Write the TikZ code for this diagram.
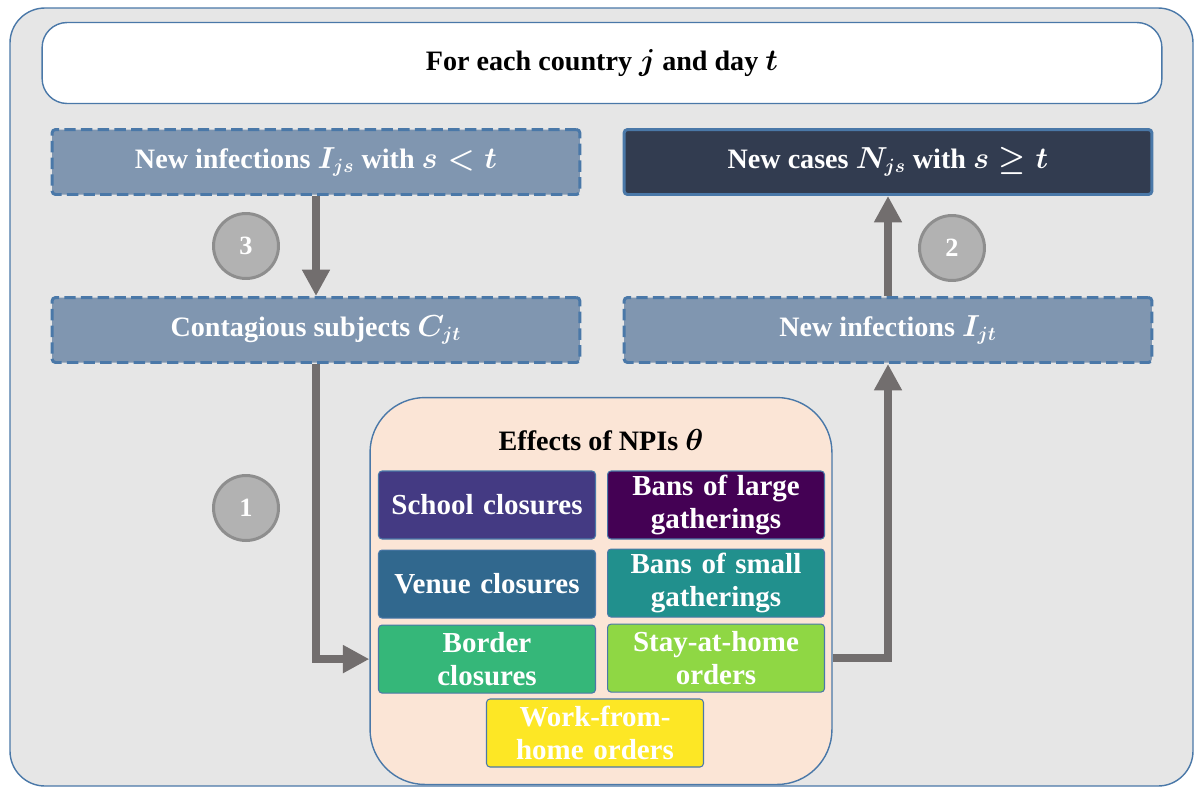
\documentclass[tikz,border=0pt]{standalone}
\usepackage{amsmath}
\usepackage{amssymb}
\usepackage{fontspec}
\setmainfont{Liberation Serif}
\usetikzlibrary{shapes,arrows.meta,positioning}

\definecolor{frameblue}{HTML}{4A78A8}
\definecolor{panelgray}{HTML}{E6E6E6}
\definecolor{slate}{HTML}{8096B0}
\definecolor{navy}{HTML}{323C50}
\definecolor{peach}{HTML}{FBE5D6}
\definecolor{arrowgray}{HTML}{726E6E}
\definecolor{circfill}{HTML}{B2B2B2}
\definecolor{circdraw}{HTML}{8E8E8E}
\definecolor{vira}{HTML}{443A83}
\definecolor{virb}{HTML}{440154}
\definecolor{virc}{HTML}{31688E}
\definecolor{vird}{HTML}{21908D}
\definecolor{vire}{HTML}{35B779}
\definecolor{virf}{HTML}{8FD744}
\definecolor{virg}{HTML}{FDE725}

\tikzstyle{stage} = [rectangle,draw=frameblue,line width=1.7pt,dash pattern=on 6.5pt off 3pt,fill=slate,text=white,minimum width=10.56cm,minimum height=1.3cm,rounded corners=2pt,font=\bfseries\boldmath\fontsize{16}{18}\selectfont]
\tikzstyle{npi} = [rectangle,draw=frameblue,line width=0.6pt,rounded corners=2pt,text=white,minimum width=4.34cm,minimum height=1.36cm,text width=4.1cm,align=center,inner sep=0pt,font=\bfseries\fontsize{16.5}{18.5}\selectfont]
\tikzstyle{stepnum} = [circle,draw=circdraw,line width=1.7pt,fill=circfill,text=white,minimum size=1.3cm,font=\bfseries\fontsize{15}{17}\selectfont]
\tikzstyle{arrow} = [draw=arrowgray,line width=4.5pt,-{Triangle[length=15pt,width=15pt]}]

\begin{document}
\begin{tikzpicture}[x=0.02cm,y=-0.02cm]
	\useasboundingbox (0,0) rectangle (1201,789);
	\draw [frameblue,line width=0.8pt,fill=panelgray,rounded corners=0.7cm] (10,8) rectangle (1193,786);

	%header
	\node (title) [rectangle,draw=frameblue,line width=0.8pt,fill=white,rounded corners=0.5cm,minimum width=22.4cm,minimum height=1.62cm,font=\bfseries\boldmath\fontsize{16}{18}\selectfont] at (602,63) {For each country $j$ and day $t$};

	%stages
	\node (Ijs) [stage] at (316,162) {New infections $I_{js}$ with $s<t$};
	\node (Njs) [stage,solid,fill=navy] at (888,162) {New cases $N_{js}$ with $s\geq t$};
	\node (Cjt) [stage] at (316,330) {Contagious subjects $C_{jt}$};
	\node (Ijt) [stage] at (888,330) {New infections $I_{jt}$};

	%NPIs
	\node (effects) [rectangle,draw=frameblue,line width=0.8pt,fill=peach,rounded corners=1.1cm,minimum width=9.24cm,minimum height=7.74cm] at (601,591) {};
	\node (head) [font=\bfseries\boldmath\fontsize{16}{18}\selectfont] at (601,440) {Effects of NPIs $\theta$};
	\node (school) [npi,fill=vira] at (487,505) {School closures};
	\node (large) [npi,fill=virb,right=0.22cm of school] {Bans of large\\gatherings};
	\node (venue) [npi,fill=virc,below=0.2cm of school] {Venue closures};
	\node (small) [npi,fill=vird,below=0.18cm of large] {Bans of small\\gatherings};
	\node (border) [npi,fill=vire,below=0.12cm of venue] {Border\\closures};
	\node (stay) [npi,fill=virf,below=0.12cm of small] {Stay-at-home\\orders};
	\node (wfh) [npi,fill=virg] at (595,733) {Work-from-\\home orders};

	%flows
	\draw [arrow] (Ijs) -- (Cjt);
	\draw [arrow] (Ijt) -- (Njs);
	\draw [arrow] (Cjt.south) |- (effects.west |- border.west);
	\draw [arrow] (effects.east |- stay.east) -| (Ijt.south);

	\node (n3) [stepnum] at (246,246) {3};
	\node (n2) [stepnum] at (952,248) {2};
	\node (n1) [stepnum] at (246,508) {1};
\end{tikzpicture}
\end{document}
